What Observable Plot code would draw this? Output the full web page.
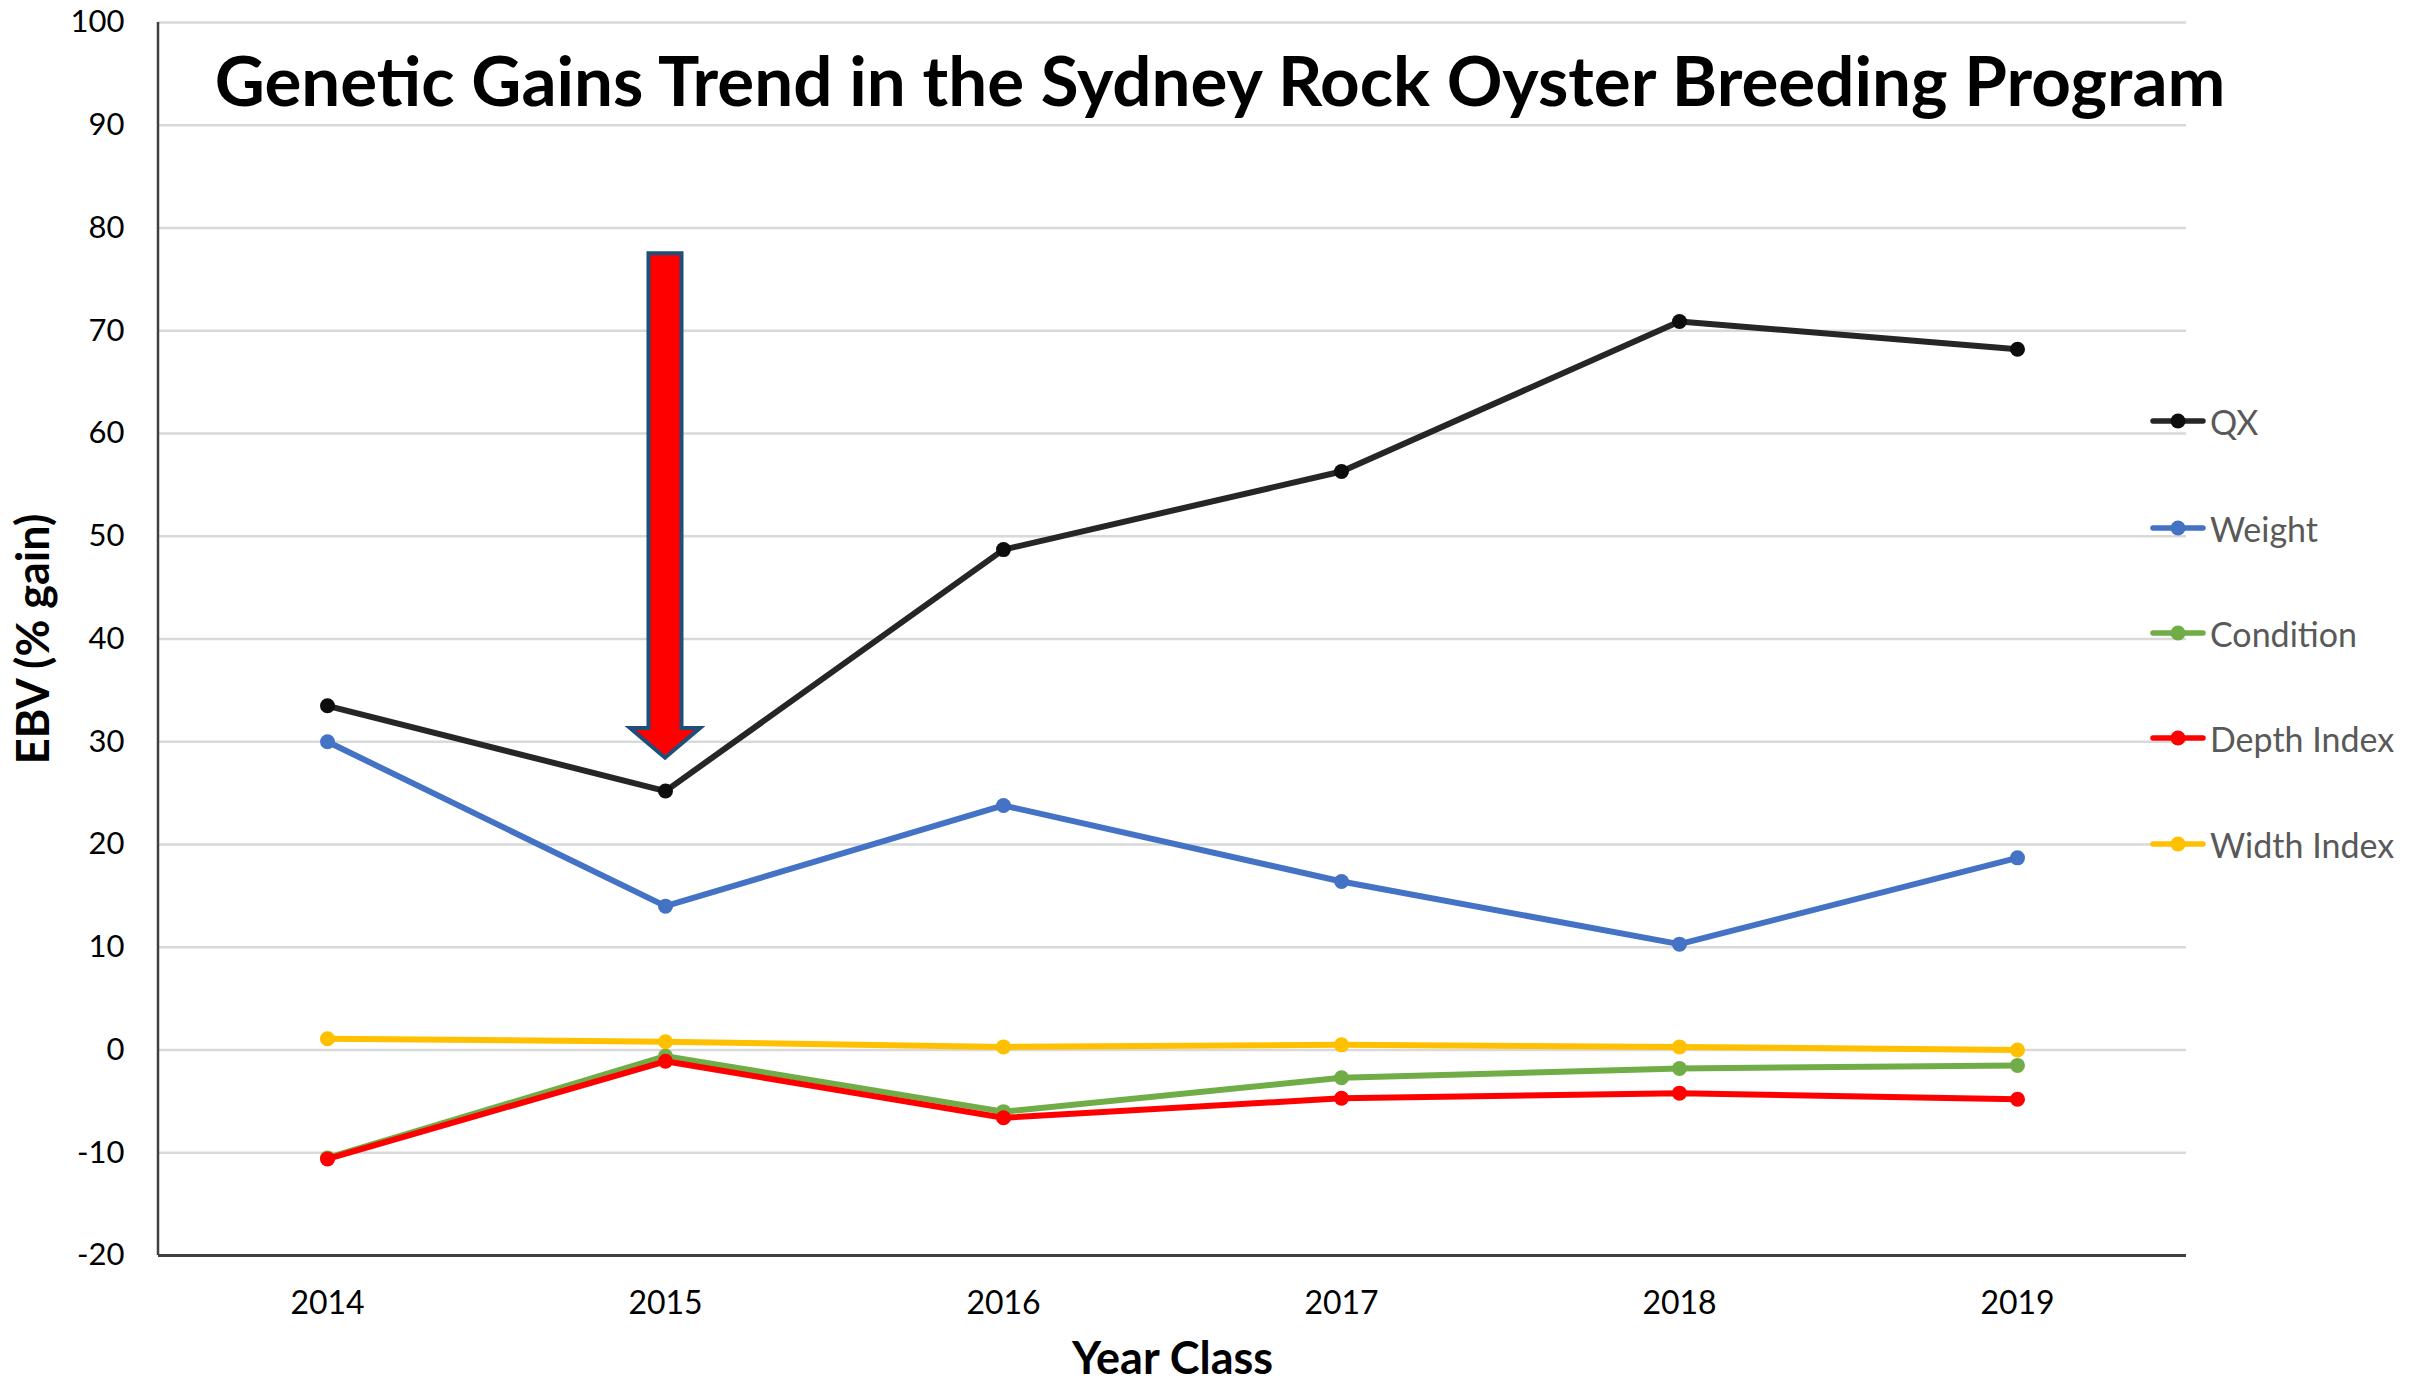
<!DOCTYPE html>
<html><head><meta charset="utf-8">
<script src="https://cdn.jsdelivr.net/npm/d3@7"></script>
<script src="https://cdn.jsdelivr.net/npm/@observablehq/plot@0.6"></script>
<style>
html,body{margin:0;padding:0;background:#fff;}
#wrap{position:relative;width:2427px;height:1384px;overflow:hidden;font-family:Lato,sans-serif;}
#title{position:absolute;white-space:nowrap;font-weight:700;color:#000;line-height:1;}
.item{position:absolute;display:flex;align-items:center;white-space:nowrap;color:#595959;font-size:34px;}
.item svg{margin-right:3px;}
</style></head><body><div id="wrap"></div>
<script>
const years = ["2014","2015","2016","2017","2018","2019"];
const seriesNames = ["QX","Weight","Condition","Depth Index","Width Index"];
const qx = [33.5,25.2,48.7,56.3,70.9,68.2];
const weight = [30.0,14.0,23.8,16.4,10.3,18.7];
const condition = [-10.5,-0.6,-6.0,-2.7,-1.8,-1.5];
const depthIndex = [-10.6,-1.1,-6.6,-4.7,-4.2,-4.8];
const widthIndex = [1.1,0.8,0.3,0.5,0.3,0.0];
const seriesColors = ["#262626","#4472C4","#70AD47","#FF0000","#FFC000"];
const yTicks = [-20,-10,0,10,20,30,40,50,60,70,80,90,100];
const titleText = "Genetic Gains Trend in the Sydney Rock Oyster Breeding Program";
const xTitle = "Year Class";
const yTitle = "EBV (% gain)";
const arrowYear = "2015";
const arrowTop = 77.5, arrowBase = 31.3, arrowTip = 28.4;

const seriesValues = [qx, weight, condition, depthIndex, widthIndex];
const rows = seriesNames.map((s, k) => years.map((yr, i) => ({year: yr, series: s, value: seriesValues[k][i]})));

const W = 2427, H = 1384;
const mL = 158, mR = 241, mT = 22, mB = 129;

const leftAxisLine = (index, scales, values, d) => {
  const l = d3.create("svg:line")
    .attr("x1", d.marginLeft).attr("x2", d.marginLeft)
    .attr("y1", scales.y(100)).attr("y2", scales.y(-20))
    .attr("stroke", "#404040").attr("stroke-width", 2.5);
  return l.node();
};

const arrow = (index, scales) => {
  const cx = scales.x(arrowYear);
  const yt = scales.y(arrowTop), yb = scales.y(arrowBase), ytip = scales.y(arrowTip);
  const sw = 16.5, hw = 35;
  const p = `M${cx-sw},${yt}H${cx+sw}V${yb}H${cx+hw}L${cx},${ytip}L${cx-hw},${yb}H${cx-sw}Z`;
  return d3.create("svg:path").attr("d", p).attr("fill", "#FF0000")
    .attr("stroke", "#1F4E79").attr("stroke-width", 4).attr("stroke-linejoin", "miter").node();
};

const seriesMarks = rows.flatMap((r, k) => [
  Plot.line(r, {x: "year", y: "value", stroke: seriesColors[k], strokeWidth: 6, strokeLinejoin: "round", strokeLinecap: "round"}),
  Plot.dot(r, {x: "year", y: "value", fill: k === 0 ? "#0d0d0d" : seriesColors[k], r: 7.5})
]);

const chart = Plot.plot({
  width: W, height: H,
  marginLeft: mL, marginRight: mR, marginTop: mT, marginBottom: mB,
  style: {fontFamily: "Lato, sans-serif", fontSize: "30px", color: "#000", background: "#fff"},
  x: {type: "point", domain: years, padding: 0.5},
  y: {domain: [-20, 100]},
  marks: [
    Plot.gridY(yTicks.filter(t => t > -20), {stroke: "#d9d9d9", strokeOpacity: 1, strokeWidth: 2.5}),
    Plot.ruleY([-20], {stroke: "#404040", strokeWidth: 3}),
    leftAxisLine,
    Plot.axisY(yTicks, {tickSize: 0, tickPadding: 34, label: null, fontSize: 31, tickFormat: d => String(d)}),
    Plot.axisX({tickSize: 0, tickPadding: 36, label: null, fontSize: 32}),
    Plot.text([yTitle], {frameAnchor: "left", dx: -124, rotate: -90, textAnchor: "middle", fontWeight: "bold", fontSize: 45, fill: "#000"}),
    Plot.text([xTitle], {frameAnchor: "bottom", dy: 118, fontWeight: "bold", fontSize: 45, fill: "#000"}),
    arrow,
    ...seriesMarks
  ]
});

const wrap = document.getElementById("wrap");
wrap.appendChild(chart);

// title
const t = document.createElement("div");
t.id = "title";
t.textContent = titleText;
t.style.fontSize = "80px";
wrap.appendChild(t);
const targetW = 2011;
const w0 = t.getBoundingClientRect().width;
const fs = 80 * targetW / w0;
t.style.fontSize = fs + "px";
const r1 = t.getBoundingClientRect();
t.style.left = (1220 - r1.width / 2) + "px";
t.style.top = (80 - r1.height / 2) + "px";

// legend
const legendY = [421, 528, 633, 738, 844];
seriesNames.forEach((s, k) => {
  const it = document.createElement("div");
  it.className = "item";
  it.style.left = "2149px";
  it.style.top = (legendY[k] - 22) + "px";
  it.style.height = "44px";
  const c = k === 0 ? "#0d0d0d" : seriesColors[k];
  it.innerHTML = `<svg width="58" height="18"><line x1="4" x2="54" y1="9" y2="9" stroke="${seriesColors[k]}" stroke-width="5.5" stroke-linecap="round"/><circle cx="29" cy="9" r="7.5" fill="${c}"/></svg><span>${s}</span>`;
  wrap.appendChild(it);
});
</script></body></html>
